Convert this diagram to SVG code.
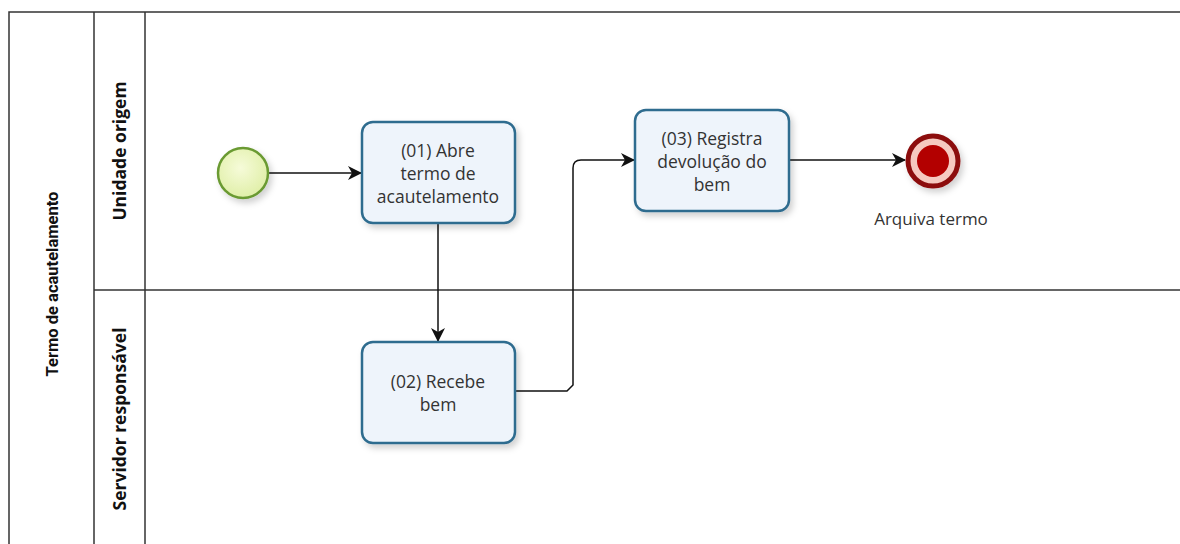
<svg xmlns="http://www.w3.org/2000/svg" width="1180" height="544" viewBox="0 0 1180 544">
<defs>
<style>
.frame{fill:none;stroke:#333;stroke-width:1.5}
.hdr{font-family:"Open Sans","Liberation Sans",sans-serif;font-weight:bold;font-size:17.5px;fill:#111}
.pool{font-family:Roboto,"Open Sans",sans-serif;font-size:16.5px}
.task{fill:#eef4fb;stroke:#2f6c8f;stroke-width:2.5}
.lbl{font-family:"Open Sans","Liberation Sans",sans-serif;font-size:17.5px;fill:#333}
.conn{fill:none;stroke:#111;stroke-width:1.5}
</style>
<marker id="arr" viewBox="0 0 14 14" refX="13" refY="7" markerWidth="14" markerHeight="14" markerUnits="userSpaceOnUse" orient="auto">
<path d="M0,0 L14,7 L0,14 L4,7 Z" fill="#111"/>
</marker>
<filter id="sh" x="-20%" y="-20%" width="150%" height="150%">
<feDropShadow dx="3" dy="4" stdDeviation="3" flood-color="#000" flood-opacity="0.18"/>
</filter>
<radialGradient id="startG" cx="45%" cy="40%" r="60%">
<stop offset="0" stop-color="#f6fbd9"/>
<stop offset="1" stop-color="#e0efa8"/>
</radialGradient>
</defs>
<rect width="1180" height="544" fill="#fff"/>
<g id="pool">
<path class="frame" d="M1180,12 H9 V544"/>
<line class="frame" x1="94" y1="12" x2="94" y2="544"/>
<line class="frame" x1="145" y1="12" x2="145" y2="544"/>
<line class="frame" x1="94" y1="290" x2="1180" y2="290"/>
<text class="hdr pool" transform="translate(58,284) rotate(-90)" text-anchor="middle">Termo de acautelamento</text>
</g>
<g id="lane1"><text class="hdr" transform="translate(126,151) rotate(-90)" text-anchor="middle">Unidade origem</text></g>
<g id="lane2"><text class="hdr" transform="translate(126,419) rotate(-90)" text-anchor="middle">Servidor responsável</text></g>
<g id="connectors">
<line class="conn" x1="269" y1="173" x2="361" y2="173" marker-end="url(#arr)"/>
<line class="conn" x1="438" y1="224" x2="438" y2="341" marker-end="url(#arr)"/>
<path class="conn" d="M516,391 H567 L573,385 V168 Q573,160 581,160 H634" marker-end="url(#arr)"/>
<line class="conn" x1="790" y1="160" x2="905" y2="160" marker-end="url(#arr)"/>
</g>
<g id="start">
<circle cx="243" cy="173" r="25" fill="url(#startG)" stroke="#6a9a32" stroke-width="2.5" filter="url(#sh)"/>
</g>
<g id="task1">
<rect class="task" x="362" y="122" width="153" height="101" rx="11" filter="url(#sh)"/>
<text class="lbl" text-anchor="middle"><tspan x="438" y="157">(01) Abre</tspan><tspan x="438" y="180">termo de</tspan><tspan x="438" y="203">acautelamento</tspan></text>
</g>
<g id="task2">
<rect class="task" x="362" y="342" width="153" height="101" rx="11" filter="url(#sh)"/>
<text class="lbl" text-anchor="middle"><tspan x="438" y="388">(02) Recebe</tspan><tspan x="438" y="411">bem</tspan></text>
</g>
<g id="task3">
<rect class="task" x="635" y="110" width="154" height="101" rx="11" filter="url(#sh)"/>
<text class="lbl" text-anchor="middle"><tspan x="712" y="145">(03) Registra</tspan><tspan x="712" y="168">devolução do</tspan><tspan x="712" y="191">bem</tspan></text>
</g>
<g id="end">
<circle cx="933" cy="161" r="25" fill="#f6c9c0" stroke="#8c1111" stroke-width="5" filter="url(#sh)"/>
<circle cx="933" cy="161" r="16" fill="#b30000"/>
<text class="lbl" x="931" y="225" text-anchor="middle" style="font-size:17px">Arquiva termo</text>
</g>
</svg>
